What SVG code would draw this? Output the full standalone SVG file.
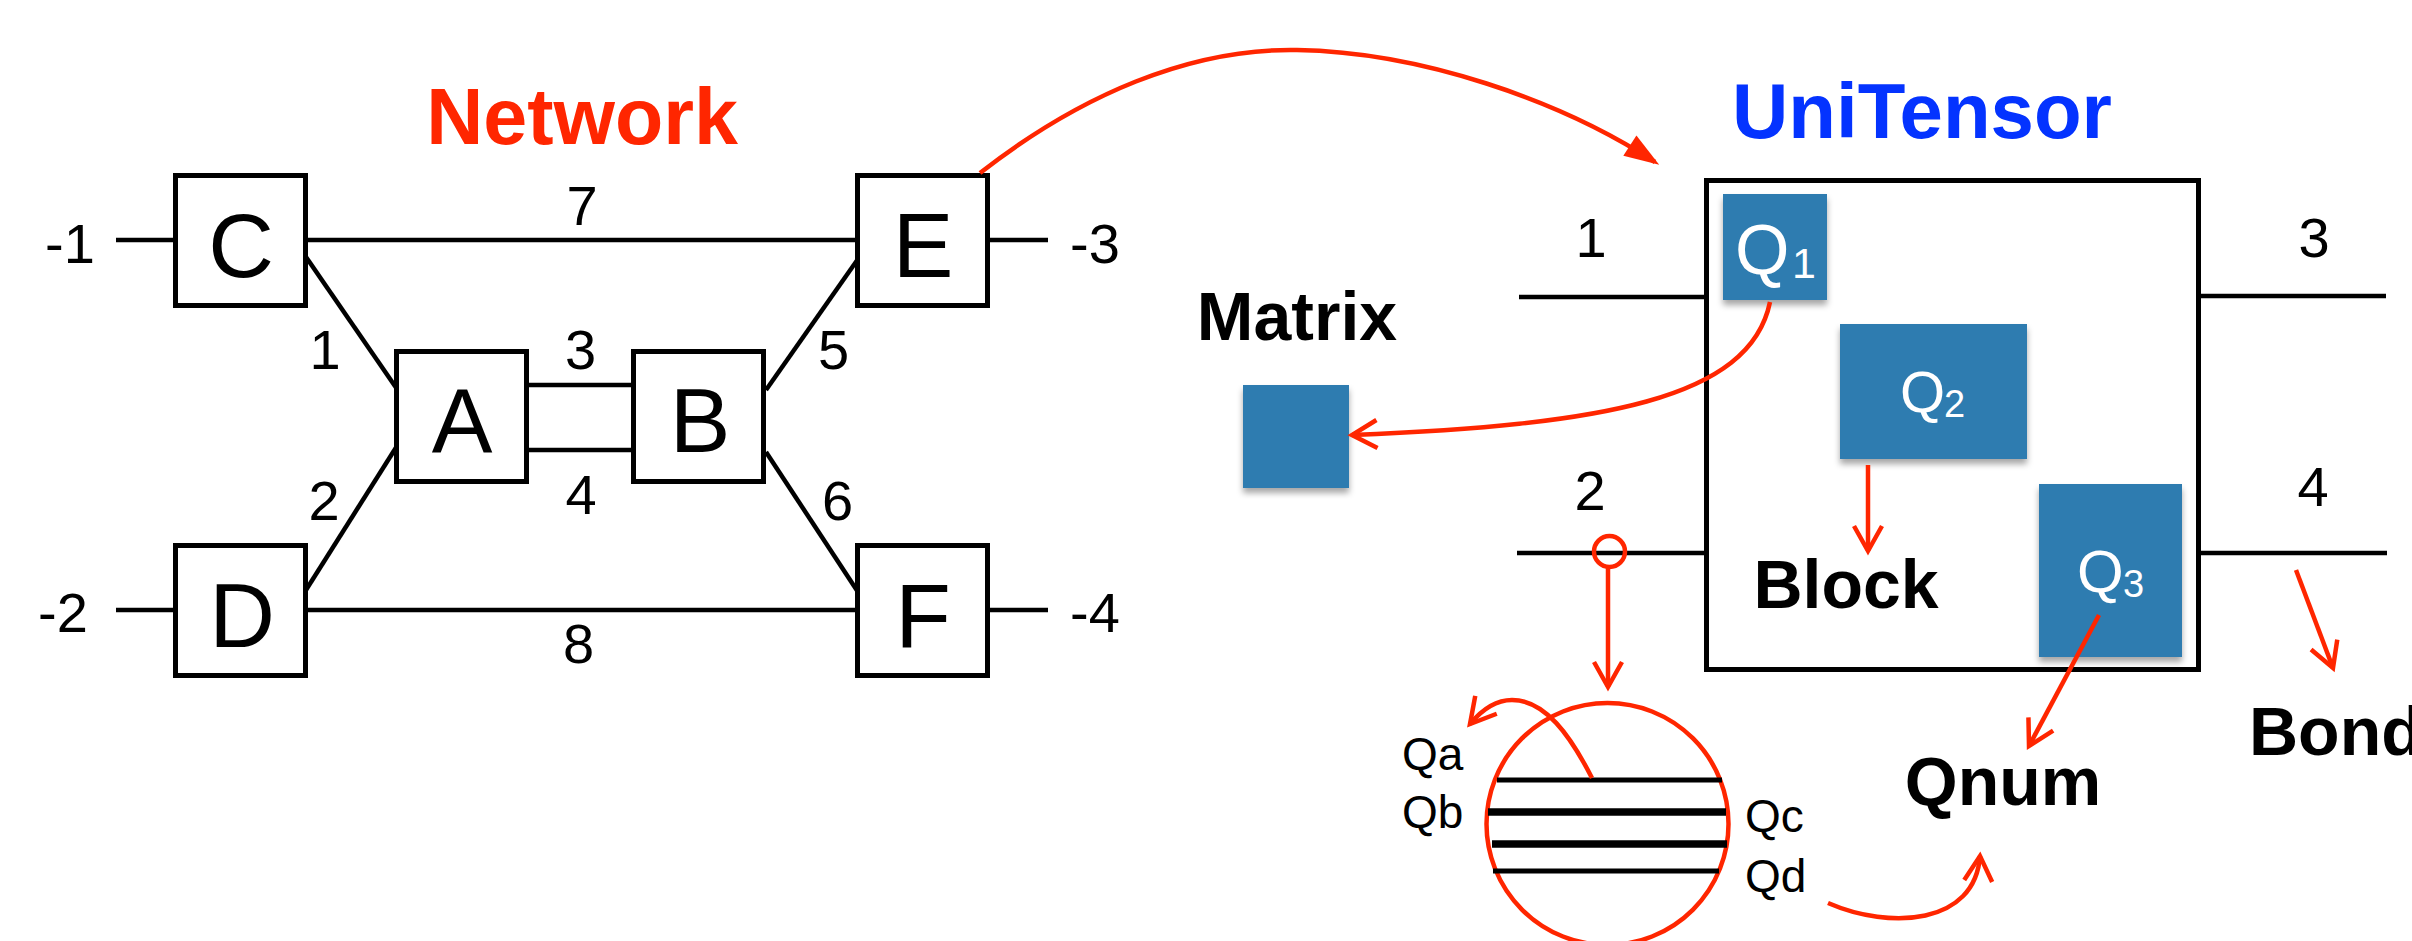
<svg xmlns="http://www.w3.org/2000/svg" width="2412" height="941" viewBox="0 0 2412 941">
<style>
  text { font-family: "Liberation Sans", Arial, Helvetica, sans-serif; }
  .box { fill: #fff; stroke: #000; stroke-width: 5; }
  .bl { stroke: #000; stroke-width: 4.5; fill: none; }
  .let { font-size: 91px; fill: #000; text-anchor: middle; }
  .num { font-size: 56px; fill: #000; }
  .mid { text-anchor: middle; }
  .title { font-weight: bold; text-anchor: middle; }
  .blk { font-weight: bold; font-size: 68px; fill: #000; text-anchor: middle; }
  .sq { fill: #2f7cb0; filter: url(#sh); }
  .qt { fill: #fff; }
  .red { stroke: #ff2600; stroke-width: 4.5; fill: none; }
  .ra { stroke: #ff2600; stroke-width: 4.5; fill: none; marker-end: url(#chev); }
  .qs { font-size: 46px; fill: #000; }
</style>
<defs>
  <filter id="sh" x="-20%" y="-20%" width="140%" height="150%">
    <feDropShadow dx="0" dy="5" stdDeviation="3" flood-color="#000" flood-opacity="0.35"/>
  </filter>
  <marker id="chev" markerUnits="userSpaceOnUse" orient="auto" refX="0" refY="0" markerWidth="40" markerHeight="40" overflow="visible">
    <path d="M-25,-14 L0,0 L-25,14" fill="none" stroke="#ff2600" stroke-width="4.5" stroke-linejoin="miter"/>
  </marker>
  <marker id="tri" markerUnits="userSpaceOnUse" orient="auto" refX="0" refY="0" markerWidth="50" markerHeight="50" overflow="visible">
    <path d="M5,0 L-30,-12 L-30,12 Z" fill="#ff2600"/>
  </marker>
</defs>
<rect width="2412" height="941" fill="#fff"/>

<!-- Titles -->
<text id="title-network" class="title" x="582" y="144" font-size="79" fill="#ff2600">Network</text>
<text id="title-unitensor" class="title" x="1922" y="138" font-size="78" fill="#0433ff">UniTensor</text>

<!-- UniTensor frame -->
<g id="node-unitensor">
  <rect x="1706.5" y="180.5" width="492" height="489" fill="none" stroke="#000" stroke-width="5"/>
</g>

<!-- Network nodes -->
<g id="node-C"><rect class="box" x="175.5" y="175.5" width="130" height="130"/><text class="let" x="241" y="277">C</text></g>
<g id="node-E"><rect class="box" x="857.5" y="175.5" width="130" height="130"/><text class="let" x="923" y="277">E</text></g>
<g id="node-A"><rect class="box" x="396.5" y="351.5" width="130" height="130"/><text class="let" x="462" y="452">A</text></g>
<g id="node-B"><rect class="box" x="633.5" y="351.5" width="130" height="130"/><text class="let" x="700" y="452">B</text></g>
<g id="node-D"><rect class="box" x="175.5" y="545.5" width="130" height="130"/><text class="let" x="242" y="647">D</text></g>
<g id="node-F"><rect class="box" x="857.5" y="545.5" width="130" height="130"/><text class="let" x="923" y="647">F</text></g>

<!-- Network labels -->
<g id="network-labels" class="num">
  <text x="45" y="263">-1</text>
  <text x="38" y="632">-2</text>
  <text x="1070" y="263">-3</text>
  <text x="1070" y="632">-4</text>
  <text class="mid" x="582" y="225">7</text>
  <text class="mid" x="325" y="369">1</text>
  <text class="mid" x="324" y="520">2</text>
  <text class="mid" x="580.5" y="369">3</text>
  <text class="mid" x="581" y="514">4</text>
  <text class="mid" x="833.5" y="369">5</text>
  <text class="mid" x="837.5" y="520">6</text>
  <text class="mid" x="578.5" y="663">8</text>
</g>

<g id="unitensor-labels" class="num">
  <text class="mid" x="1591" y="257">1</text>
  <text class="mid" x="1590" y="510">2</text>
  <text class="mid" x="2314" y="257">3</text>
  <text class="mid" x="2313" y="506">4</text>
</g>
<g id="node-Q1">
  <rect class="sq" x="1723" y="194" width="104" height="106"/>
  <text class="qt" x="1735" y="274" font-size="70">Q<tspan x="1792" y="278" font-size="43">1</tspan></text>
</g>
<g id="node-Q2">
  <rect class="sq" x="1840" y="324" width="187" height="135"/>
  <text class="qt" x="1900" y="412" font-size="58">Q<tspan x="1944" y="417" font-size="38">2</tspan></text>
</g>
<g id="node-Q3">
  <rect class="sq" x="2039" y="484" width="143" height="173"/>
  <text class="qt" x="2077" y="592" font-size="60">Q<tspan x="2123" y="597" font-size="38">3</tspan></text>
</g>
<g id="node-matrix">
  <text class="blk" x="1297" y="340" font-size="78">Matrix</text>
  <rect class="sq" x="1243" y="385" width="106" height="103"/>
</g>
<g id="node-block"><text class="blk" x="1846" y="608">Block</text></g>
<g id="node-qnum"><text class="blk" x="2003" y="805" font-size="67">Qnum</text></g>
<g id="node-bond"><text class="blk" x="2249" y="755" style="text-anchor:start">Bond</text></g>

<!-- Bond detail circle -->
<g id="node-bond-detail">
  <circle cx="1607.5" cy="824" r="121" fill="none" stroke="#ff2600" stroke-width="4.5"/>
  <line x1="1497" y1="780" x2="1722" y2="780" stroke="#000" stroke-width="5"/>
  <line x1="1488" y1="812" x2="1726" y2="812" stroke="#000" stroke-width="7.5"/>
  <line x1="1492" y1="844" x2="1727" y2="844" stroke="#000" stroke-width="7.5"/>
  <line x1="1493" y1="871" x2="1719" y2="871" stroke="#000" stroke-width="5"/>
  <text class="qs" x="1402" y="770">Qa</text>
  <text class="qs" x="1402" y="828">Qb</text>
  <text class="qs" x="1745" y="832">Qc</text>
  <text class="qs" x="1745" y="892">Qd</text>
</g>

<!-- Connectors -->
<g id="connectors">
  <!-- network bonds -->
  <line class="bl" x1="116" y1="240" x2="176" y2="240"/>
  <line class="bl" x1="116" y1="610" x2="176" y2="610"/>
  <line class="bl" x1="987" y1="240" x2="1048" y2="240"/>
  <line class="bl" x1="987" y1="610" x2="1048" y2="610"/>
  <line class="bl" x1="305" y1="240" x2="858" y2="240"/>
  <line class="bl" x1="305" y1="610" x2="858" y2="610"/>
  <line class="bl" x1="306" y1="257" x2="397" y2="389"/>
  <line class="bl" x1="306" y1="590" x2="397" y2="446"/>
  <line class="bl" x1="766" y1="390" x2="858" y2="259"/>
  <line class="bl" x1="766" y1="452" x2="858" y2="592"/>
  <line class="bl" x1="527" y1="385" x2="635" y2="385"/>
  <line class="bl" x1="527" y1="450" x2="635" y2="450"/>
  <!-- unitensor bonds -->
  <line class="bl" x1="1519" y1="297" x2="1707" y2="297" stroke-width="5"/>
  <line class="bl" x1="1517" y1="553" x2="1707" y2="553" stroke-width="5"/>
  <line class="bl" x1="2198" y1="296" x2="2386" y2="296" stroke-width="5"/>
  <line class="bl" x1="2198" y1="553" x2="2387" y2="553" stroke-width="5"/>
  <!-- red arrows -->
  <path class="red" d="M980,173 C1080,95 1190,48 1297,50 C1420,52 1560,100 1655,162" marker-end="url(#tri)"/>
  <path class="ra" d="M1770,302 C1750,400 1600,425 1352,435"/>
  <line class="ra" x1="1868" y1="465" x2="1868" y2="551"/>
  <circle class="red" cx="1609.5" cy="551.5" r="15.5"/>
  <line class="ra" x1="1608" y1="568" x2="1608" y2="687"/>
  <path class="ra" d="M1592,778 C1570,735 1545,700 1512,700 C1495,700 1480,712 1470,724"/>
  <line class="ra" x1="2099" y1="615" x2="2029" y2="746"/>
  <path class="ra" d="M1828,903 C1890,930 1975,925 1980,856"/>
  <line class="ra" x1="2296" y1="570" x2="2333" y2="668"/>
</g>
</svg>
